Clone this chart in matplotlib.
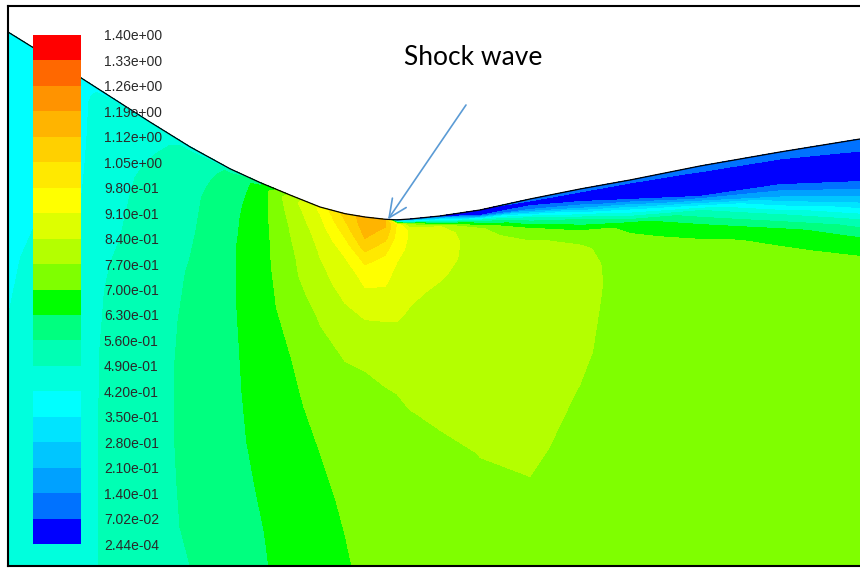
import numpy as np
import matplotlib
matplotlib.use("Agg")
import matplotlib.pyplot as plt

############ data (pixel units, y grows downward) ############

# wall profile
wall_x = [8, 50, 100, 150, 200, 240, 280, 320, 350, 380, 400, 430, 460, 480, 530, 580, 630, 700, 780, 860]
wall_y = [32, 58, 90, 122, 153, 174, 191, 207, 215, 219, 220, 217, 214, 210, 199, 189, 180, 166, 152, 139]
bottom_y = 565

# contour levels and legend
levels = [0.000244, 0.0702, 0.14, 0.21, 0.28, 0.35, 0.42, 0.49, 0.56, 0.63, 0.70,
          0.77, 0.84, 0.91, 0.98, 1.05, 1.12, 1.19, 1.26, 1.33, 1.40]
level_labels = ['2.44e-04', '7.02e-02', '1.40e-01', '2.10e-01', '2.80e-01', '3.50e-01',
                '4.20e-01', '4.90e-01', '5.60e-01', '6.30e-01', '7.00e-01', '7.70e-01',
                '8.40e-01', '9.10e-01', '9.80e-01', '1.05e+00', '1.12e+00', '1.19e+00',
                '1.26e+00', '1.33e+00', '1.40e+00']
band_colors = ['#0000ff', '#0072ff', '#00a1ff', '#00c6ff', '#00e4ff', '#00ffff',
               '#00ffdd', '#00ffb4', '#00ff7f', '#00ff00', '#7fff00', '#b4ff00',
               '#ddff00', '#ffff00', '#ffe900', '#ffd000', '#ffb400', '#ff9300',
               '#ff6800', '#ff0000']

# sampling columns; each column goes from the wall down to the bottom
col_x = [8, 33, 60, 82, 110, 150, 190, 230, 260, 290, 320, 345, 365, 385, 397,
         410, 440, 480, 530, 580, 630, 700, 780, 860]
depth_rows = [0, 5, 11, 19, 30, 45]                                  # px below wall
frac_rows = [0.05, 0.10, 0.16, 0.22, 0.36, 0.50, 0.64, 0.78, 0.90, 1.0]  # of the rest

# values down each column (wall first)
mach = [
    [0.39, 0.39, 0.39, 0.39, 0.39, 0.39, 0.39, 0.39, 0.39, 0.395, 0.40, 0.421, 0.44, 0.45, 0.45, 0.45],
    [0.39, 0.39, 0.39, 0.39, 0.39, 0.39, 0.39, 0.39, 0.395, 0.40, 0.44, 0.45, 0.455, 0.455, 0.455, 0.455],
    [0.40, 0.40, 0.40, 0.40, 0.40, 0.40, 0.405, 0.41, 0.42, 0.43, 0.445, 0.45, 0.455, 0.455, 0.455, 0.455],
    [0.40, 0.40, 0.405, 0.41, 0.41, 0.41, 0.412, 0.415, 0.42, 0.43, 0.45, 0.455, 0.46, 0.46, 0.46, 0.46],
    [0.40, 0.44, 0.45, 0.45, 0.455, 0.46, 0.465, 0.47, 0.475, 0.48, 0.50, 0.51, 0.51, 0.51, 0.51, 0.51],
    [0.40, 0.46, 0.47, 0.475, 0.485, 0.495, 0.505, 0.51, 0.515, 0.52, 0.525, 0.53, 0.53, 0.53, 0.53, 0.53],
    [0.40, 0.50, 0.51, 0.52, 0.53, 0.54, 0.545, 0.55, 0.558, 0.565, 0.575, 0.58, 0.58, 0.575, 0.57, 0.56],
    [0.45, 0.57, 0.58, 0.59, 0.60, 0.61, 0.615, 0.62, 0.62, 0.62, 0.615, 0.61, 0.605, 0.60, 0.595, 0.59],
    [0.60, 0.655, 0.66, 0.665, 0.67, 0.67, 0.67, 0.67, 0.67, 0.67, 0.665, 0.66, 0.65, 0.635, 0.625, 0.62],
    [0.78, 0.81, 0.80, 0.79, 0.775, 0.765, 0.755, 0.75, 0.735, 0.725, 0.698, 0.68, 0.67, 0.665, 0.66, 0.655],
    [0.93, 0.915, 0.90, 0.885, 0.865, 0.845, 0.83, 0.82, 0.795, 0.772, 0.75, 0.725, 0.70, 0.685, 0.675, 0.67],
    [1.08, 1.055, 1.035, 1.00, 0.955, 0.905, 0.875, 0.855, 0.835, 0.815, 0.76, 0.74, 0.725, 0.71, 0.70, 0.695],
    [1.15, 1.16, 1.15, 1.13, 1.08, 0.99, 0.93, 0.90, 0.85, 0.83, 0.77, 0.75, 0.735, 0.725, 0.715, 0.71],
    [1.12, 1.13, 1.11, 1.07, 1.00, 0.95, 0.92, 0.90, 0.85, 0.83, 0.775, 0.76, 0.745, 0.735, 0.725, 0.72],
    [0.10, 0.97, 0.96, 0.95, 0.93, 0.905, 0.89, 0.875, 0.85, 0.83, 0.78, 0.76, 0.75, 0.74, 0.73, 0.72],
    [0.03, 0.75, 0.895, 0.90, 0.895, 0.885, 0.87, 0.85, 0.835, 0.82, 0.795, 0.767, 0.75, 0.74, 0.73, 0.725],
    [0.03, 0.45, 0.85, 0.87, 0.87, 0.86, 0.845, 0.83, 0.82, 0.815, 0.80, 0.78, 0.755, 0.745, 0.735, 0.73],
    [0.06, 0.03, 0.55, 0.79, 0.81, 0.815, 0.815, 0.81, 0.81, 0.81, 0.80, 0.785, 0.771, 0.76, 0.75, 0.745],
    [0.09, 0.04, 0.15, 0.50, 0.71, 0.785, 0.80, 0.80, 0.80, 0.80, 0.80, 0.795, 0.785, 0.76, 0.75, 0.745],
    [0.10, 0.05, 0.04, 0.20, 0.55, 0.74, 0.785, 0.795, 0.795, 0.79, 0.78, 0.765, 0.745, 0.735, 0.73, 0.73],
    [0.10, 0.05, 0.03, 0.06, 0.35, 0.68, 0.72, 0.735, 0.74, 0.74, 0.74, 0.74, 0.735, 0.735, 0.735, 0.735],
    [0.10, 0.075, 0.04, 0.02, 0.06, 0.50, 0.67, 0.72, 0.735, 0.74, 0.74, 0.74, 0.74, 0.74, 0.74, 0.74],
    [0.10, 0.08, 0.05, 0.02, 0.04, 0.21, 0.50, 0.68, 0.715, 0.73, 0.735, 0.74, 0.74, 0.74, 0.74, 0.74],
    [0.11, 0.09, 0.075, 0.04, 0.02, 0.08, 0.28, 0.52, 0.68, 0.72, 0.735, 0.74, 0.74, 0.74, 0.74, 0.74],
]

shock_x = 388          # where the arrow points on the wall
label_text = 'Shock wave'

############################### build the grid ###############################
cx = np.array(col_x, dtype=float)
wy = np.interp(cx, wall_x, wall_y)
rows = [wy + d for d in depth_rows]
base = wy + depth_rows[-1]
rows += [base + f * (bottom_y - base) for f in frac_rows]
Y = np.array(rows)
X = np.tile(cx, (Y.shape[0], 1))
Z = np.array(mach).T

################################## plotting ##################################
fig = plt.figure(figsize=(8.6, 5.68), dpi=100, facecolor='white')
ax = fig.add_axes([8 / 860, 2 / 568, 1.0, 560 / 568])
ax.set_xlim(8, 868)
ax.set_ylim(566, 6)
ax.set_xticks([])
ax.set_yticks([])
for side in ['left', 'top', 'bottom']:
    ax.spines[side].set_linewidth(1.5)
    ax.spines[side].set_color('black')
ax.spines['right'].set_visible(False)

cs = ax.contourf(X, Y, Z, levels=levels, colors=band_colors)
ax.plot(cx, wy, color='black', lw=0.9)

tip_y = np.interp(shock_x, wall_x, wall_y)
ax.annotate('', xy=(shock_x, tip_y), xytext=(466, 105),
            arrowprops=dict(arrowstyle='->,head_length=0.65,head_width=0.3',
                            color='#5b9bd5', lw=1.2, shrinkA=0, shrinkB=0,
                            mutation_scale=20))
ax.text(473, 65, label_text, ha='center', va='baseline', fontsize=19,
        family=['Lato', 'DejaVu Sans'], color='black')

# colour legend
cax = fig.add_axes([33 / 860, 24 / 568, 48 / 860, 509 / 568])
cb = fig.colorbar(cs, cax=cax, ticks=levels)
cb.outline.set_visible(False)
cax.set_yticklabels(level_labels)
cax.tick_params(length=0, pad=16.5, labelsize=10, labelcolor='#2a2a2a')
for t in cax.get_yticklabels():
    t.set_family(['Liberation Sans', 'DejaVu Sans'])

fig.savefig('out.png', dpi=100, facecolor='white')
